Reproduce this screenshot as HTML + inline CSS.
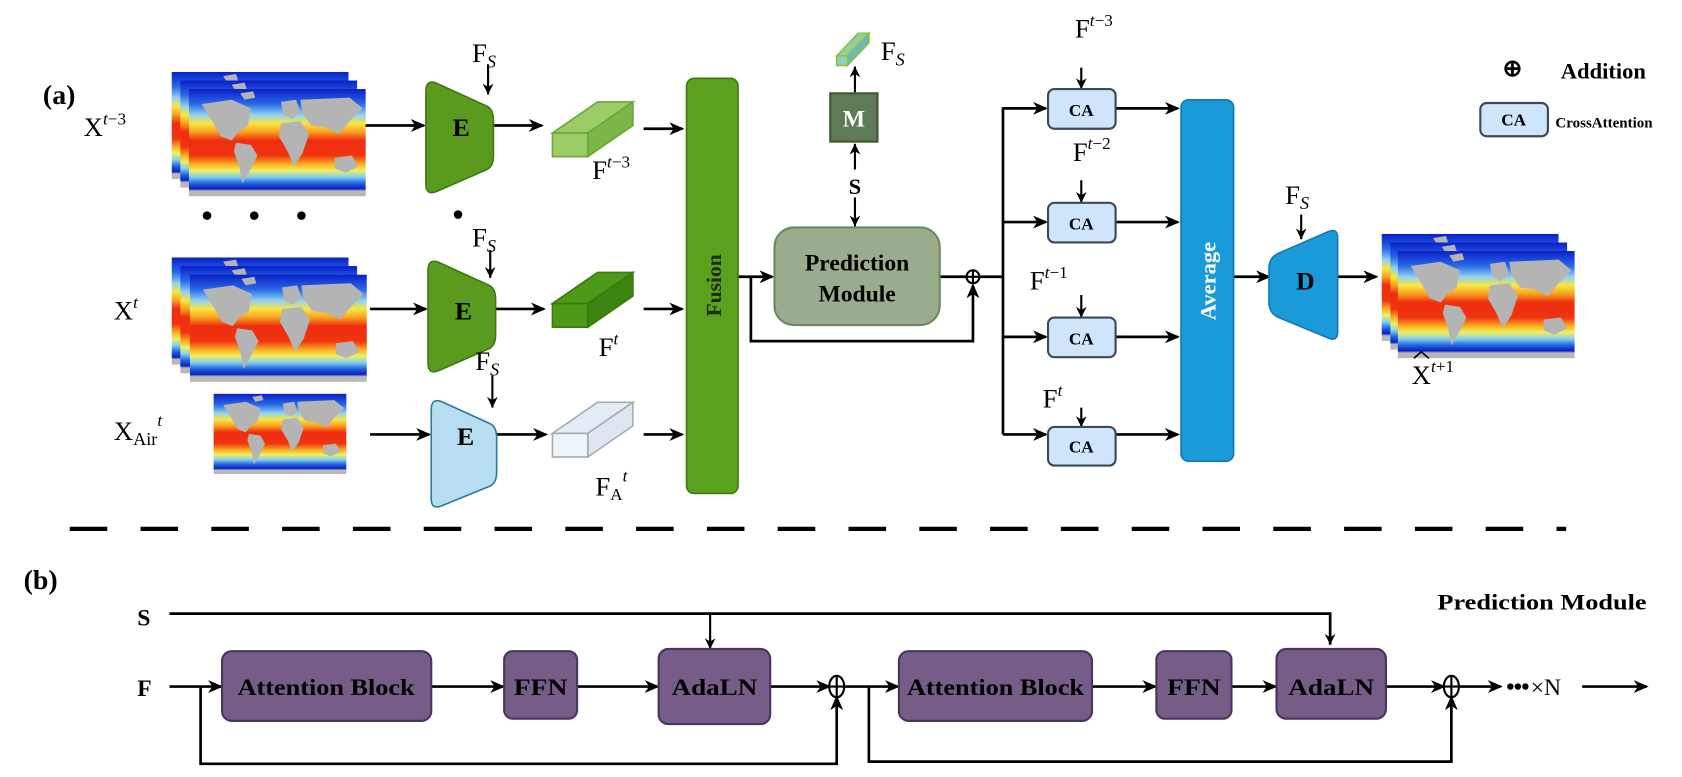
<!DOCTYPE html>
<html><head><meta charset="utf-8"><style>
html,body{margin:0;padding:0;background:#fff;}
svg{display:block;}
text{font-family:"Liberation Serif",serif;}
.b{font-weight:bold;}
</style></head><body>
<svg width="1682" height="777" viewBox="0 0 1568 724.3" xmlns="http://www.w3.org/2000/svg">
<defs>
<linearGradient id="sst" x1="0" y1="0" x2="0" y2="1">
<stop offset="0" stop-color="#0a1fc8"/><stop offset="0.14" stop-color="#2a6ae8"/>
<stop offset="0.24" stop-color="#8fd0f4"/><stop offset="0.32" stop-color="#f8e840"/>
<stop offset="0.4" stop-color="#f8a020"/><stop offset="0.48" stop-color="#f02c10"/>
<stop offset="0.62" stop-color="#f03410"/><stop offset="0.7" stop-color="#f8b020"/>
<stop offset="0.76" stop-color="#f0f060"/><stop offset="0.82" stop-color="#80d0f0"/>
<stop offset="0.88" stop-color="#2060e0"/><stop offset="0.93" stop-color="#0a20c0"/>
<stop offset="0.95" stop-color="#b8b8b8"/><stop offset="1" stop-color="#b8b8b8"/>
</linearGradient>
<symbol id="map" viewBox="0 0 165 100" width="165" height="100">
<rect width="165" height="100" fill="url(#sst)"/>
<g fill="#b4b4b4">
<path d="M12,14 L40,10 L58,18 L55,34 L46,40 L40,48 L30,44 L22,30 Z"/>
<path d="M44,50 L58,52 L64,62 L56,78 L50,88 L47,72 L42,58 Z"/>
<path d="M86,12 L100,10 L104,22 L96,28 L88,24 Z"/>
<path d="M86,32 L104,30 L112,42 L106,60 L98,72 L92,58 L84,44 Z"/>
<path d="M104,10 L150,8 L162,18 L150,30 L140,42 L128,36 L114,34 L106,22 Z"/>
<path d="M136,64 L152,62 L158,72 L146,78 L136,74 Z"/>
<path d="M48,4 L60,2 L62,8 L52,10 Z"/>
</g>
</symbol>
<marker id="ar" markerWidth="14" markerHeight="12" refX="12" refY="6" orient="auto" markerUnits="userSpaceOnUse">
<path d="M0,0 L14,6 L0,12 L4,6 Z" fill="#000"/></marker>
<marker id="as" markerWidth="10" markerHeight="12" refX="10" refY="5" orient="auto" markerUnits="userSpaceOnUse">
<path d="M0,0 L10,5 L0,10 L3,5 Z" fill="#000"/></marker>
</defs>

<g stroke="#000" stroke-width="2.5" fill="none">
<line x1="340" y1="117" x2="395" y2="117" marker-end="url(#ar)"/>
<line x1="460" y1="117" x2="505" y2="117" marker-end="url(#ar)"/>
<line x1="600" y1="120" x2="636" y2="120" marker-end="url(#ar)"/>
<line x1="345" y1="288" x2="397" y2="288" marker-end="url(#ar)"/>
<line x1="462" y1="288" x2="507" y2="288" marker-end="url(#ar)"/>
<line x1="600" y1="288" x2="636" y2="288" marker-end="url(#ar)"/>
<line x1="345" y1="405" x2="400" y2="405" marker-end="url(#ar)"/>
<line x1="463" y1="405" x2="509" y2="405" marker-end="url(#ar)"/>
<line x1="600" y1="405" x2="636" y2="405" marker-end="url(#ar)"/>
<line x1="455" y1="60" x2="455" y2="88" stroke-width="2" marker-end="url(#as)"/>
<line x1="457" y1="233" x2="457" y2="259" stroke-width="2" marker-end="url(#as)"/>
<line x1="459" y1="350" x2="459" y2="380" stroke-width="2" marker-end="url(#as)"/>
<line x1="688" y1="258" x2="720" y2="258" marker-end="url(#ar)"/>
<polyline points="700,258 700,318 907,318 907,266" stroke-width="2.5" marker-end="url(#ar)"/>
<line x1="876" y1="258" x2="935" y2="258"/>
<line x1="797" y1="158" x2="797" y2="134" stroke-width="2" marker-end="url(#as)"/>
<line x1="797" y1="184" x2="797" y2="211" stroke-width="2" marker-end="url(#as)"/>
<line x1="797" y1="86" x2="797" y2="62" stroke-width="2" marker-end="url(#as)"/>
<polyline points="935,405 935,100"/>
<line x1="935" y1="101" x2="975" y2="101" marker-end="url(#ar)"/>
<line x1="935" y1="207" x2="975" y2="207" marker-end="url(#ar)"/>
<line x1="935" y1="314" x2="975" y2="314" marker-end="url(#ar)"/>
<line x1="935" y1="405" x2="975" y2="405" marker-end="url(#ar)"/>
<line x1="1040" y1="101" x2="1098" y2="101" marker-end="url(#ar)"/>
<line x1="1040" y1="207" x2="1098" y2="207" marker-end="url(#ar)"/>
<line x1="1040" y1="314" x2="1098" y2="314" marker-end="url(#ar)"/>
<line x1="1040" y1="405" x2="1098" y2="405" marker-end="url(#ar)"/>
<line x1="1008" y1="63" x2="1008" y2="83" stroke-width="2" marker-end="url(#as)"/>
<line x1="1008" y1="168" x2="1008" y2="189" stroke-width="2" marker-end="url(#as)"/>
<line x1="1008" y1="275" x2="1008" y2="296" stroke-width="2" marker-end="url(#as)"/>
<line x1="1008" y1="380" x2="1008" y2="398" stroke-width="2" marker-end="url(#as)"/>
<line x1="1150" y1="258" x2="1183" y2="258" marker-end="url(#ar)"/>
<line x1="1247" y1="258" x2="1283" y2="258" marker-end="url(#ar)"/>
<line x1="1213" y1="200" x2="1213" y2="223" stroke-width="2" marker-end="url(#as)"/>
</g>
<circle cx="907" cy="258" r="6" fill="#fff" stroke="#000" stroke-width="2"/>
<line x1="901" y1="258" x2="913" y2="258" stroke="#000" stroke-width="2"/>
<line x1="907" y1="252" x2="907" y2="264" stroke="#000" stroke-width="2"/>

<use href="#map" x="160" y="67"/><use href="#map" x="168" y="75"/><use href="#map" x="176" y="83"/>
<use href="#map" x="160" y="240"/><use href="#map" x="168" y="248"/><use href="#map" x="177" y="256"/>
<use href="#map" x="176" y="367" width="170" height="75"/>
<use href="#map" x="1288" y="218"/><use href="#map" x="1296" y="226"/><use href="#map" x="1303" y="234"/>

<path d="M397,85 Q397,73 408,78 L454,99 Q460,102 460,112 L460,145 Q460,155 454,158 L408,178 Q397,183 397,172 Z" fill="#5a9a1e" stroke="#3e7a10" stroke-width="1.5"/>
<path d="M399,252 Q399,240 410,245 L456,266 Q462,269 462,279 L462,312 Q462,322 456,325 L410,345 Q399,350 399,339 Z" fill="#5a9a1e" stroke="#3e7a10" stroke-width="1.5"/>
<path d="M402,382 Q402,370 413,375 L457,395 Q463,398 463,408 L463,440 Q463,450 457,453 L413,471 Q402,476 402,465 Z" fill="#b7def0" stroke="#2a7aa0" stroke-width="1.5"/>
<text x="430" y="127" font-size="24" class="b" text-anchor="middle">E</text>
<text x="432" y="298" font-size="24" class="b" text-anchor="middle">E</text>
<text x="434" y="415" font-size="24" class="b" text-anchor="middle">E</text>
<path d="M1247,222 Q1247,212 1238,216 L1192,236 Q1183,240 1183,250 L1183,282 Q1183,292 1192,296 L1238,315 Q1247,319 1247,309 Z" fill="#1a9ad8" stroke="#1478b0" stroke-width="1.5"/>
<text x="1217" y="270" font-size="24" class="b" text-anchor="middle">D</text>

<g stroke-width="1.5">
<path d="M515,124 L557,95 L590,95 L548,124 Z" fill="#9ccc66" stroke="#6aa83a"/>
<path d="M548,124 L590,95 L590,117 L548,146 Z" fill="#7cb648" stroke="#6aa83a"/>
<rect x="515" y="124" width="33" height="22" fill="#9ccc66" stroke="#6aa83a"/>
<path d="M515,283 L557,254 L590,254 L548,283 Z" fill="#4e9a18" stroke="#3a7a10"/>
<path d="M548,283 L590,254 L590,276 L548,305 Z" fill="#3e8410" stroke="#3a7a10"/>
<rect x="515" y="283" width="33" height="22" fill="#4e9a18" stroke="#3a7a10"/>
<path d="M515,404 L557,375 L590,375 L548,404 Z" fill="#e4ecf6" stroke="#aaa"/>
<path d="M548,404 L590,375 L590,397 L548,426 Z" fill="#dde6f2" stroke="#aaa"/>
<rect x="515" y="404" width="33" height="22" fill="#eef4fc" stroke="#aaa"/>
<path d="M780,52 L800,31 L810,31 L790,52 Z" fill="#8fd0a0" stroke="#8cc040"/>
<path d="M790,52 L810,31 L810,40 L790,61 Z" fill="#6cb8c0" stroke="#8cc040"/>
<rect x="780" y="52" width="10" height="9" fill="#8fd0c0" stroke="#8cc040"/>
</g>

<rect x="640" y="73" width="48" height="387" rx="7" fill="#5aa21e" stroke="#3e7a10" stroke-width="1.5"/>
<text transform="translate(672,266) rotate(-90)" font-size="20" class="b" text-anchor="middle" fill="#1a2a0a">Fusion</text>
<rect x="722" y="212" width="154" height="91" rx="18" fill="#9aab8e" stroke="#6b8a5c" stroke-width="2"/>
<text x="799" y="252" font-size="22" class="b" text-anchor="middle">Prediction</text>
<text x="799" y="281" font-size="22" class="b" text-anchor="middle">Module</text>
<rect x="774" y="87" width="44" height="45" fill="#5f7a56" stroke="#3e5a30" stroke-width="2"/>
<text x="796" y="118" font-size="22" class="b" text-anchor="middle" fill="#fff">M</text>
<text x="797" y="181" font-size="21" class="b" text-anchor="middle">S</text>

<g fill="#cfe6fa" stroke="#3a4a5a" stroke-width="2">
<rect x="977" y="83" width="63" height="37" rx="6"/>
<rect x="977" y="189" width="63" height="37" rx="6"/>
<rect x="977" y="296" width="63" height="37" rx="6"/>
<rect x="977" y="398" width="63" height="36" rx="6"/>
<rect x="1380" y="96" width="63" height="31" rx="6"/>
</g>
<g font-size="16" font-weight="bold" text-anchor="middle" style="font-family:'Liberation Sans',sans-serif">
<text x="1008" y="108">CA</text><text x="1008" y="214">CA</text><text x="1008" y="321">CA</text><text x="1008" y="422">CA</text><text x="1411" y="117">CA</text>
</g>
<rect x="1101" y="93" width="49" height="337" rx="7" fill="#1a9ad8" stroke="#1478b0" stroke-width="1.5"/>
<text transform="translate(1133,262) rotate(-90)" font-size="21" class="b" text-anchor="middle" fill="#fff">Average</text>

<text x="1410" y="71" font-size="22" class="b" text-anchor="middle">⊕</text>
<text x="1455" y="73" font-size="21" class="b">Addition</text>
<text x="1450" y="119" font-size="14" class="b">CrossAttention</text>

<text x="40" y="97" font-size="26" class="b">(a)</text>
<g font-size="25">
<text x="78" y="127">X<tspan font-size="16" dy="-11" font-style="italic">t</tspan><tspan font-size="16">−3</tspan></text>
<text x="106" y="298">X<tspan font-size="16" dy="-11" font-style="italic">t</tspan></text>
<text x="106" y="410">X<tspan font-size="17" dy="5">Air</tspan><tspan font-size="16" dy="-18" font-style="italic">t</tspan></text>
<text x="440" y="58">F<tspan font-size="17" dy="5" font-style="italic">S</tspan></text>
<text x="440" y="230">F<tspan font-size="17" dy="5" font-style="italic">S</tspan></text>
<text x="443" y="345">F<tspan font-size="17" dy="5" font-style="italic">S</tspan></text>
<text x="552" y="167">F<tspan font-size="16" dy="-11" font-style="italic">t</tspan><tspan font-size="16">−3</tspan></text>
<text x="558" y="332">F<tspan font-size="16" dy="-11" font-style="italic">t</tspan></text>
<text x="555" y="462">F<tspan font-size="16" dy="4">A</tspan><tspan font-size="16" dy="-17" font-style="italic">t</tspan></text>
<text x="821" y="56">F<tspan font-size="17" dy="5" font-style="italic">S</tspan></text>
<text x="1002" y="35">F<tspan font-size="16" dy="-11" font-style="italic">t</tspan><tspan font-size="16">−3</tspan></text>
<text x="1000" y="150">F<tspan font-size="16" dy="-11" font-style="italic">t</tspan><tspan font-size="16">−2</tspan></text>
<text x="960" y="270">F<tspan font-size="16" dy="-11" font-style="italic">t</tspan><tspan font-size="16">−1</tspan></text>
<text x="972" y="380">F<tspan font-size="16" dy="-11" font-style="italic">t</tspan></text>
<text x="1198" y="190">F<tspan font-size="17" dy="5" font-style="italic">S</tspan></text>
<text x="1316" y="358">X<tspan font-size="16" dy="-11" font-style="italic">t</tspan><tspan font-size="16">+1</tspan></text>
</g>
<path d="M1318,334 L1325,328 L1332,334" fill="none" stroke="#000" stroke-width="1.5"/>
<g fill="#000"><circle cx="193" cy="201" r="4"/><circle cx="237" cy="201" r="4"/><circle cx="281" cy="201" r="4"/><circle cx="427" cy="200" r="4"/></g>

<line x1="65" y1="493" x2="1460" y2="493" stroke="#000" stroke-width="4" stroke-dasharray="35,31"/>

<text x="22" y="549" font-size="26" class="b">(b)</text>
<text x="1340" y="568" font-size="21" class="b" textLength="195" lengthAdjust="spacingAndGlyphs">Prediction Module</text>
<text x="128" y="583" font-size="22" class="b">S</text>
<text x="128" y="649" font-size="22" class="b">F</text>
<g stroke="#000" stroke-width="2.5" fill="none">
<polyline points="158,572 1240,572 1240,601" marker-end="url(#as)"/>
<line x1="662" y1="572" x2="662" y2="605" stroke-width="2" marker-end="url(#as)"/>
<line x1="158" y1="640" x2="206" y2="640" marker-end="url(#ar)"/>
<line x1="402" y1="640" x2="469" y2="640" marker-end="url(#ar)"/>
<line x1="538" y1="640" x2="613" y2="640" marker-end="url(#ar)"/>
<line x1="718" y1="640" x2="773" y2="640" marker-end="url(#ar)"/>
<line x1="788" y1="640" x2="837" y2="640" marker-end="url(#ar)"/>
<line x1="1018" y1="640" x2="1077" y2="640" marker-end="url(#ar)"/>
<line x1="1148" y1="640" x2="1189" y2="640" marker-end="url(#ar)"/>
<line x1="1292" y1="640" x2="1346" y2="640" marker-end="url(#ar)"/>
<line x1="1361" y1="640" x2="1399" y2="640" marker-end="url(#ar)"/>
<line x1="1475" y1="640" x2="1535" y2="640" marker-end="url(#ar)"/>
<polyline points="187,640 187,712 780,712 780,650" marker-end="url(#ar)"/>
<polyline points="810,640 810,710 1353,710 1353,650" marker-end="url(#ar)"/>
</g>
<g fill="none" stroke="#000" stroke-width="2">
<ellipse cx="780" cy="640" rx="7" ry="10"/><line x1="773" y1="640" x2="787" y2="640"/><line x1="780" y1="630" x2="780" y2="650"/>
<ellipse cx="1353" cy="640" rx="7" ry="10"/><line x1="1346" y1="640" x2="1360" y2="640"/><line x1="1353" y1="630" x2="1353" y2="650"/>
</g>
<g fill="#000"><circle cx="1408" cy="640" r="3"/><circle cx="1415" cy="640" r="3"/><circle cx="1422" cy="640" r="3"/></g>
<text x="1427" y="648" font-size="22">×N</text>
<g fill="#765d87" stroke="#4a3560" stroke-width="2">
<rect x="207" y="607" width="195" height="65" rx="9"/>
<rect x="470" y="607" width="68" height="63" rx="8"/>
<rect x="614" y="605" width="104" height="70" rx="9"/>
<rect x="838" y="607" width="180" height="65" rx="9"/>
<rect x="1078" y="607" width="70" height="63" rx="8"/>
<rect x="1190" y="605" width="102" height="65" rx="9"/>
</g>
<g font-size="22" class="b" text-anchor="middle">
<text x="304" y="648" textLength="165" lengthAdjust="spacingAndGlyphs">Attention Block</text>
<text x="504" y="648" textLength="50" lengthAdjust="spacingAndGlyphs">FFN</text>
<text x="666" y="648" textLength="80" lengthAdjust="spacingAndGlyphs">AdaLN</text>
<text x="928" y="648" textLength="165" lengthAdjust="spacingAndGlyphs">Attention Block</text>
<text x="1113" y="648" textLength="50" lengthAdjust="spacingAndGlyphs">FFN</text>
<text x="1241" y="648" textLength="80" lengthAdjust="spacingAndGlyphs">AdaLN</text>
</g>
</svg>
</body></html>
